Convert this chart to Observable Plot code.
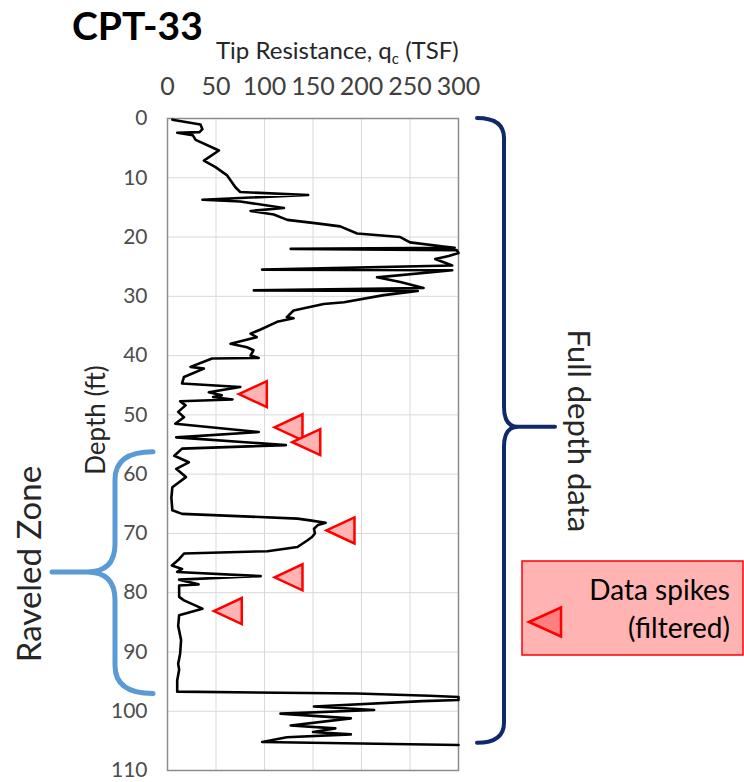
<!DOCTYPE html>
<html><head><meta charset="utf-8">
<script src="https://cdn.jsdelivr.net/npm/d3@7"></script>
<script src="https://cdn.jsdelivr.net/npm/@observablehq/plot@0.6"></script>
<style>
body{margin:0;background:#fff;}
#chart{width:744px;height:782px;}
</style></head><body><div id="chart"></div>
<script>
// ---- data ----
const depth = [0.2,1.0,1.8,2.3,2.4,2.8,3.6,5.4,7.1,8.2,9.6,11.6,12.4,12.9,13.7,14.0,15.1,15.6,16.2,17.1,17.7,18.2,19.4,20.0,20.9,21.6,21.8,22.0,22.2,22.7,23.2,23.7,24.8,25.5,25.6,26.8,27.6,28.6,29.0,29.1,29.8,31.0,31.3,32.4,33.5,33.7,34.3,35.6,36.3,36.9,38.0,38.6,39.1,40.0,40.4,40.5,41.9,42.2,43.6,44.7,45.3,46.2,46.7,47.0,47.4,47.7,48.4,49.5,50.4,51.5,52.9,53.8,55.1,55.7,56.9,58.0,59.1,60.5,62.2,64.0,66.1,66.7,67.5,67.8,68.2,68.6,69.2,70.0,70.6,71.2,72.3,73.0,73.4,74.5,75.4,76.0,76.5,77.2,77.8,78.6,78.8,80.7,81.3,82.7,83.8,85.6,88.0,90.3,92.0,93.0,94.8,96.7,97.0,97.4,97.6,98.1,98.3,99.2,99.8,100.4,101.2,102.4,102.9,103.5,103.9,104.4,105.2,105.7];
const qc = [5,34,36,33,10,26,29,53,37.5,49.5,61.5,70,75,145,36,75,120,85.6,109.6,123.4,154,178,195.5,240,250,284.5,296,127,298,300,290,276,293.5,97.6,293.5,216,240,264,89,258,223,182,161,130,123,130,113,96,85.6,92,65,82,88.6,85.6,94,46,23.7,37.5,17,15,75,42.6,56,47,67,13,18.6,11,17,8,94,9,122,15,7,22,9,19,5,4,5,15,134,147,163,155,151,152,149,144,134,103,17,11,4.5,15,10,96,12,32,12,12,17,36,12,11,14,13,11,12,10,10,195,270,300,300,263,151,213,116.5,189,127,173,150,189,123,97.6,300];
const spikeDepth = [46.5,52.1,54.6,69.5,77.4,83.1];
const spikeQc = [73.5,110.3,128.6,163.9,110.3,47.7];
const xTicks = [0,50,100,150,200,250,300];
const yTicks = [0,10,20,30,40,50,60,70,80,90,100,110];
const fullDepthBrace = [0,52.1,105.4];   // top, middle, bottom depth (ft)
const raveledBrace = [56.3,76.6,97.1];   // top, middle, bottom depth (ft)
const titleText = "CPT-33";
const xLabelMain = "Tip Resistance, q";
const xLabelSub = "c";
const xLabelUnit = " (TSF)";
const yLabelText = "Depth (ft)";
const raveledText = "Raveled Zone";
const fullDepthText = "Full depth data";
const legendLines = ["Data spikes","(filtered)"];

// ---- chart ----
const profile = depth.map((d,i)=>({depth:d, qc:qc[i]}));
const spikes = spikeDepth.map((d,i)=>({depth:d, qc:spikeQc[i]}));
const leftTriangle = {draw(ctx){ctx.moveTo(0,0);ctx.lineTo(28,-13);ctx.lineTo(28,13);ctx.closePath();}};

const chart = Plot.plot({
  width:744, height:782,
  marginLeft:167, marginRight:286, marginTop:118, marginBottom:12,
  style:{background:"#fff", fontFamily:"Lato, 'Open Sans', sans-serif", fontSize:"21px", color:"#404040", overflow:"visible"},
  x:{domain:[0,300]},
  y:{domain:[0,110], reverse:true},
  marks:[
    Plot.gridX(xTicks.slice(1,-1), {stroke:"#d9d9d9", strokeOpacity:1, strokeWidth:1}),
    Plot.gridY(yTicks.slice(1,-1), {stroke:"#d9d9d9", strokeOpacity:1, strokeWidth:1}),
    Plot.frame({stroke:"#8c8c8c", strokeWidth:1.5}),
    Plot.axisX(xTicks, {anchor:"top", tickSize:0, tickPadding:24, fontSize:25, label:null, fill:"#404040"}),
    Plot.axisY(yTicks, {anchor:"left", tickSize:0, tickPadding:20, fontSize:21, label:null, fill:"#4d4d4d"}),
    Plot.line(profile, {x:"qc", y:"depth", stroke:"#000", strokeWidth:2.6, strokeLinejoin:"round"}),
    Plot.dot(spikes, {x:"qc", y:"depth", symbol:leftTriangle, fill:"#ffb3b3", stroke:"#ff0000", strokeWidth:2.5})
  ]
});
document.getElementById("chart").appendChild(chart);

const svg = d3.select(chart);
const ys = chart.scale("y");
const Y = v => ys.apply(v);
const FONT = "Lato, 'Open Sans', sans-serif";

// title
svg.append("text").attr("x",72).attr("y",40).attr("text-anchor","start").attr("font-family",FONT).attr("font-weight",700)
  .attr("font-size",39).attr("fill","#000").text(titleText);
// x label
const xl = svg.append("text").attr("x",216).attr("y",59).attr("text-anchor","start").attr("font-family",FONT).attr("font-size",24).attr("fill","#262626");
xl.append("tspan").text(xLabelMain);
xl.append("tspan").attr("font-size",15).attr("dy",5).text(xLabelSub);
xl.append("tspan").attr("dy",-5).text(xLabelUnit);
// y label
svg.append("text").attr("transform","translate(95,420) rotate(-90)").attr("text-anchor","middle")
  .attr("dominant-baseline","central").attr("font-family",FONT).attr("font-size",26).attr("fill","#262626").text(yLabelText);

// right brace (full depth)
{
  const [t,m,b] = fullDepthBrace.map(Y);
  const x0=477, xv=504, xp=555, r=20;
  const p = `M${x0},${t} Q${xv},${t} ${xv},${t+r} L${xv},${m-r} Q${xv},${m} ${xv+14},${m} L${xp},${m} L${xv+14},${m} Q${xv},${m} ${xv},${m+r} L${xv},${b-r} Q${xv},${b} ${x0},${b}`;
  svg.append("path").attr("d",p).attr("fill","none").attr("stroke","#10296b").attr("stroke-width",4).attr("stroke-linecap","round").attr("stroke-linejoin","round");
  svg.append("text").attr("transform",`translate(580,${m+4}) rotate(90)`).attr("text-anchor","middle")
    .attr("dominant-baseline","central").attr("font-family",FONT).attr("font-size",31).attr("fill","#262626").text(fullDepthText);
}
// left brace (raveled zone)
{
  const [t,m,b] = raveledBrace.map(Y);
  const x0=153, xv=115, xp=52, r=28;
  const p = `M${x0},${t} Q${xv},${t} ${xv},${t+r} L${xv},${m-r} Q${xv},${m} ${xv-28},${m} L${xp},${m} L${xv-28},${m} Q${xv},${m} ${xv},${m+r} L${xv},${b-r} Q${xv},${b} ${x0},${b}`;
  svg.append("path").attr("d",p).attr("fill","none").attr("stroke","#5b9bd5").attr("stroke-width",5).attr("stroke-linecap","round").attr("stroke-linejoin","round");
  svg.append("text").attr("transform",`translate(28,${m-8}) rotate(-90)`).attr("text-anchor","middle")
    .attr("dominant-baseline","central").attr("font-family",FONT).attr("font-size",33).attr("fill","#262626").text(raveledText);
}
// legend box
svg.append("rect").attr("x",522).attr("y",561).attr("width",221).attr("height",94)
  .attr("fill","#ffb3b3").attr("stroke","#ff0000").attr("stroke-width",1.5);
svg.append("path").attr("d","M529,622 L561,607.5 L561,636.5 Z").attr("fill","#ff8080").attr("stroke","#ff0000").attr("stroke-width",2.5);
legendLines.forEach((s,i)=>{
  svg.append("text").attr("x",730).attr("y",600+i*38).attr("text-anchor","end").attr("font-family",FONT)
    .attr("font-size",28).attr("fill","#000").text(s);
});
</script></body></html>
